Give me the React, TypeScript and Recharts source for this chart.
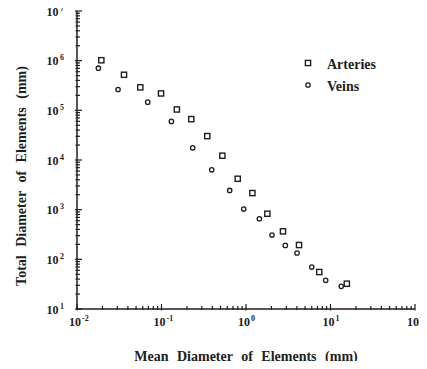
import React from 'react';
import { ScatterChart, Scatter, XAxis, YAxis, Label, Legend } from 'recharts';

const arteriesX = [0.0194, 0.036, 0.0561, 0.0987, 0.152, 0.225, 0.348, 0.525, 0.798, 1.19, 1.79, 2.74, 4.24, 7.36, 15.6];
const arteriesY = [1.02e6, 5.2e5, 2.9e5, 2.19e5, 1.04e5, 6.65e4, 3.03e4, 1.22e4, 4190, 2160, 828, 366, 194, 55.5, 32.3];
const veinsX = [0.0179, 0.0306, 0.0687, 0.131, 0.234, 0.393, 0.641, 0.94, 1.44, 2.03, 2.92, 4.02, 6.0, 8.77, 13.4];
const veinsY = [7.06e5, 2.63e5, 1.46e5, 5.98e4, 1.76e4, 6350, 2440, 1030, 656, 308, 191, 134, 70, 37.8, 28.6];

const xMajorTicks = [0.01, 0.1, 1, 10, 100];
const yMajorTicks = [10, 100, 1000, 1e4, 1e5, 1e6, 1e7];
const minorMultipliers = [2, 3, 4, 5, 6, 7, 8, 9];

const seriesNames = ['Arteries', 'Veins'];
const xTitle = 'Mean Diameter of Elements (mm)';
const yTitle = 'Total Diameter of Elements (mm)';

const withMinors = (majors: number[]) => {
  const out: number[] = [...majors];
  majors.slice(0, -1).forEach((d) => minorMultipliers.forEach((m) => out.push(Number((d * m).toPrecision(3)))));
  return out.sort((a, b) => a - b);
};
const xTicks = withMinors(xMajorTicks);
const yTicks = withMinors(yMajorTicks);

const arteries = arteriesX.map((x, i) => ({ x, y: arteriesY[i] }));
const veins = veinsX.map((x, i) => ({ x, y: veinsY[i] }));

const FONT = "'Liberation Serif', 'Times New Roman', serif";
const INK = '#1e1e1e';

const isMajor = (v: number) => {
  const e = Math.log10(v);
  return Math.abs(e - Math.round(e)) < 1e-6;
};

const XTick = (props: any) => {
  const { x, y, payload } = props;
  const v = payload.value;
  const major = isMajor(v);
  const exp = Math.round(Math.log10(v));
  return (
    <g>
      <line x1={x} x2={x} y1={y + (major ? 1.5 : 1)} y2={y - (major ? 5 : 3)} stroke={INK} strokeWidth={1.2} />
      {major && (
        <>
          <text x={x - 2} y={y + 17} textAnchor="middle" fontSize={12} fontWeight="bold" fontFamily={FONT} fill={INK}>10</text>
          <text x={x + 5} y={y + 12} textAnchor="start" fontSize={8} fontWeight="bold" fontFamily={FONT} fill={INK}>{String(exp)}</text>
        </>
      )}
    </g>
  );
};

const YTick = (props: any) => {
  const { x, y, payload } = props;
  const v = payload.value;
  const major = isMajor(v);
  const exp = Math.round(Math.log10(v));
  return (
    <g>
      <line x1={x - (major ? 2 : 1.5)} x2={x + (major ? 5 : 3)} y1={y} y2={y} stroke={INK} strokeWidth={1.2} />
      {major && (
        <>
          <text x={x - 18.5} y={y + 4.5} textAnchor="end" fontSize={12} fontWeight="bold" fontFamily={FONT} fill={INK}>10</text>
          <text x={x - 17} y={y - 0.5} textAnchor="start" fontSize={8} fontWeight="bold" fontFamily={FONT} fill={INK}>{String(exp)}</text>
        </>
      )}
    </g>
  );
};

const SquareShape = (props: any) => {
  const { cx, cy } = props;
  if (cx == null || cy == null) return null;
  return <rect x={cx - 2.6} y={cy - 2.6} width={5.2} height={5.2} fill="#fff" stroke={INK} strokeWidth={1.4} />;
};

const CircleShape = (props: any) => {
  const { cx, cy } = props;
  if (cx == null || cy == null) return null;
  return <circle cx={cx} cy={cy} r={2.2} fill="#fff" stroke={INK} strokeWidth={1.3} />;
};

const LegendContent = () => (
  <svg width={110} height={50} style={{ display: 'block' }}>
    <rect x={7.4} y={7.4} width={5.2} height={5.2} fill="#fff" stroke={INK} strokeWidth={1.4} />
    <text x={29} y={16} fontSize={14} fontWeight="bold" fontFamily={FONT} fill={INK}>{seriesNames[0]}</text>
    <circle cx={10} cy={32} r={2.2} fill="#fff" stroke={INK} strokeWidth={1.3} />
    <text x={29} y={38} fontSize={14} fontWeight="bold" fontFamily={FONT} fill={INK}>{seriesNames[1]}</text>
  </svg>
);

export default function App() {
  return (
    <div style={{ margin: -8, width: 427, height: 369 }}>
      <ScatterChart width={427} height={369} margin={{ top: 11, right: 12, bottom: 0, left: 0 }}>
        <XAxis
          type="number"
          dataKey="x"
          scale="log"
          domain={[0.01, 100]}
          ticks={xTicks}
          interval={0}
          tick={<XTick />}
          tickLine={false}
          tickSize={0}
          tickMargin={0}
          height={60}
          axisLine={{ stroke: INK, strokeWidth: 1.5 }}
          allowDataOverflow
        >
          <Label
            content={() => (
              <text x={246} y={361} textAnchor="middle" fontSize={14} fontWeight="bold" fontFamily={FONT} fill={INK} style={{ wordSpacing: '5px' }}>
                {xTitle}
              </text>
            )}
          />
        </XAxis>
        <YAxis
          type="number"
          dataKey="y"
          scale="log"
          domain={[10, 1e7]}
          ticks={yTicks}
          interval={0}
          tick={<YTick />}
          tickLine={false}
          tickSize={0}
          tickMargin={0}
          width={77}
          axisLine={{ stroke: INK, strokeWidth: 1.5 }}
          allowDataOverflow
        >
          <Label
            content={() => (
              <text transform="translate(26,176) rotate(-90)" x={0} y={0} textAnchor="middle" fontSize={14} fontWeight="bold" fontFamily={FONT} fill={INK} style={{ wordSpacing: '5px' }}>
                {yTitle}
              </text>
            )}
          />
        </YAxis>
        <Legend
          layout="vertical"
          align="center"
          verticalAlign="middle"
          content={<LegendContent />}
          wrapperStyle={{ position: 'absolute', left: 298, top: 53, width: 110, height: 50 }}
        />
        <Scatter name={seriesNames[0]} data={arteries} shape={<SquareShape />} isAnimationActive={false} />
        <Scatter name={seriesNames[1]} data={veins} shape={<CircleShape />} isAnimationActive={false} />
      </ScatterChart>
    </div>
  );
}
